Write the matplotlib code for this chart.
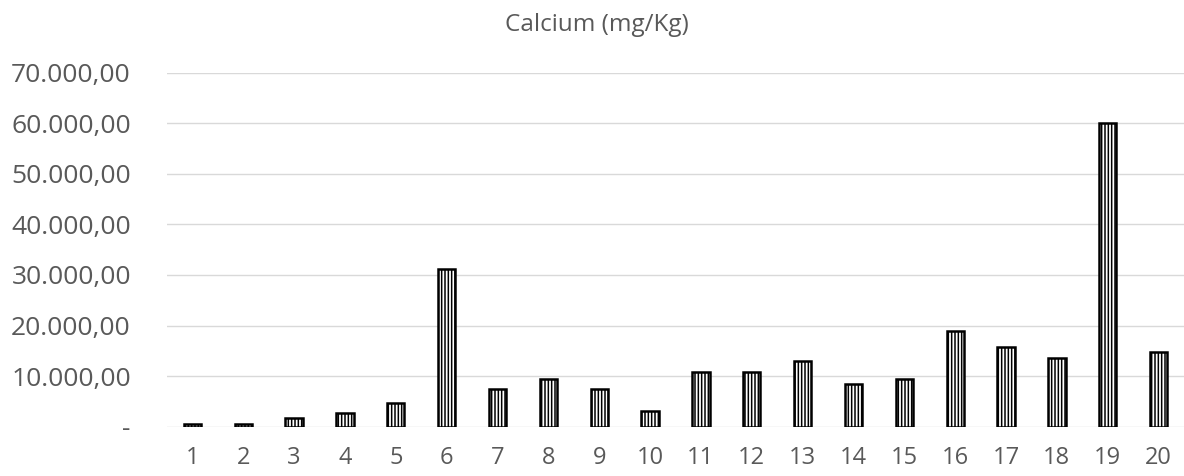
import matplotlib
matplotlib.use("Agg")
import matplotlib.pyplot as plt
from matplotlib.ticker import FuncFormatter

categories = [str(i) for i in range(1, 21)]
calcium = [460, 450, 1780, 2650, 4750, 31100, 7450, 9370, 7450, 3160,
           10750, 10900, 13050, 8440, 9500, 18920, 15700, 13640, 60100, 14830]
yticks = [0, 10000, 20000, 30000, 40000, 50000, 60000, 70000]

plt.rcParams['font.family'] = ['Open Sans', 'DejaVu Sans']
plt.rcParams['hatch.linewidth'] = 1.1
plt.rcParams['hatch.color'] = 'black'

fig = plt.figure(figsize=(11.84, 4.76), dpi=100)
ax = fig.add_axes([0.141, 0.1036, 0.859, 0.7437])

x = list(range(len(categories)))
ax.bar(x, calcium, width=0.34, color='white', edgecolor='black',
       linewidth=1.8, hatch='|||||', zorder=3)

ax.set_xlim(-0.5, len(categories) - 0.5)
ax.set_ylim(0, 70000)
ax.set_yticks(yticks)

def fmt(v, pos):
    if v == 0:
        return '-'
    s = f"{v:,.2f}"
    return s.replace(',', 'X').replace('.', ',').replace('X', '.')

ax.yaxis.set_major_formatter(FuncFormatter(fmt))
ax.set_xticks(x)
ax.set_xticklabels(categories)
ax.grid(axis='y', color='#d9d9d9', linewidth=1.0, zorder=0)
for s in ax.spines.values():
    s.set_visible(False)
ax.tick_params(axis='both', length=0, colors='#595959')
ax.tick_params(axis='y', pad=26, labelsize=19)
ax.tick_params(axis='x', pad=14, labelsize=17)
fig.text(0.504, 0.947, 'Calcium (mg/Kg)', color='#595959', fontsize=17.5,
         ha='center', va='center')

fig.savefig('out.png', dpi=100)
